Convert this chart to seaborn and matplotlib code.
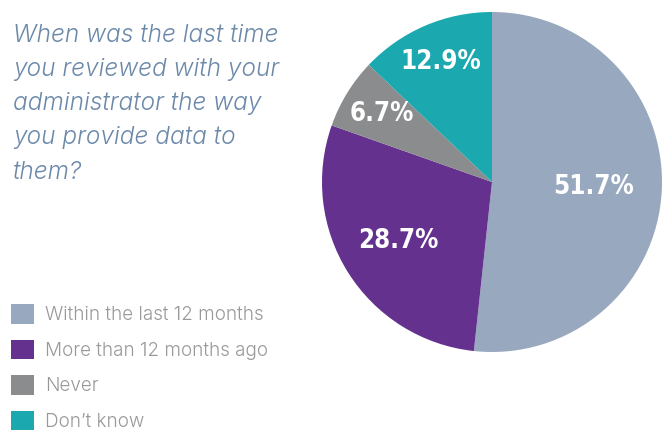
import matplotlib
matplotlib.use("Agg")
import matplotlib.pyplot as plt
from matplotlib.patches import Patch
import numpy as np
import seaborn as sns

# Survey answers and their shares (percent)
categories = ["Within the last 12 months", "More than 12 months ago", "Never", "Don\u2019t know"]
shares = [51.7, 28.7, 6.7, 12.9]
colors = ["#98A9BF", "#65318E", "#8B8C8E", "#1BA9AF"]
question = ("When was the last time\nyou reviewed with your\nadministrator the way\n"
            "you provide data to\nthem?")

sns.set_theme(style="white")
plt.rcParams["font.family"] = ["Inter", "DejaVu Sans"]

W, H = 671, 430
fig = plt.figure(figsize=(W / 100, H / 100), dpi=100)
fig.patch.set_facecolor("white")

# Pie occupies a square box on the right side
ax = fig.add_axes([322 / W, 78 / H, 340 / W, 340 / H])
wedges, _ = ax.pie(shares, colors=colors, startangle=90, counterclock=False,
                   radius=1.0, wedgeprops=dict(linewidth=0))
ax.set_xlim(-1, 1)
ax.set_ylim(-1, 1)
ax.set_aspect("equal")
ax.axis("off")

# Percentage labels inside each wedge
label_radius = [0.60, 0.65, 0.76, 0.77]
for w, v, r in zip(wedges, shares, label_radius):
    ang = np.deg2rad((w.theta1 + w.theta2) / 2)
    ax.text(r * np.cos(ang), r * np.sin(ang), f"{v:.1f}%", ha="center", va="center",
            color="white", fontsize=18.5, fontweight="bold", fontstretch="condensed",
            family=["DejaVu Sans"])

# Question text
fig.text(13 / W, 1 - 24 / H, question, ha="left", va="top", fontsize=17.6,
         style="italic", fontweight=300, color="#6C89AA", linespacing=1.62)

# Legend
handles = [Patch(facecolor=c, edgecolor="none", label=l) for c, l in zip(colors, categories)]
fig.legend(handles=handles, loc="upper left", bbox_to_anchor=(11 / W, 1 - 304 / H),
           frameon=False, handlelength=1.22, handleheight=1.22,
           handletextpad=0.6, labelspacing=0.82, borderaxespad=0, borderpad=0,
           labelcolor="#999999", prop=dict(family=["Inter", "DejaVu Sans"], weight=300, size=13.6))

fig.savefig("out.png", dpi=100, facecolor="white")
